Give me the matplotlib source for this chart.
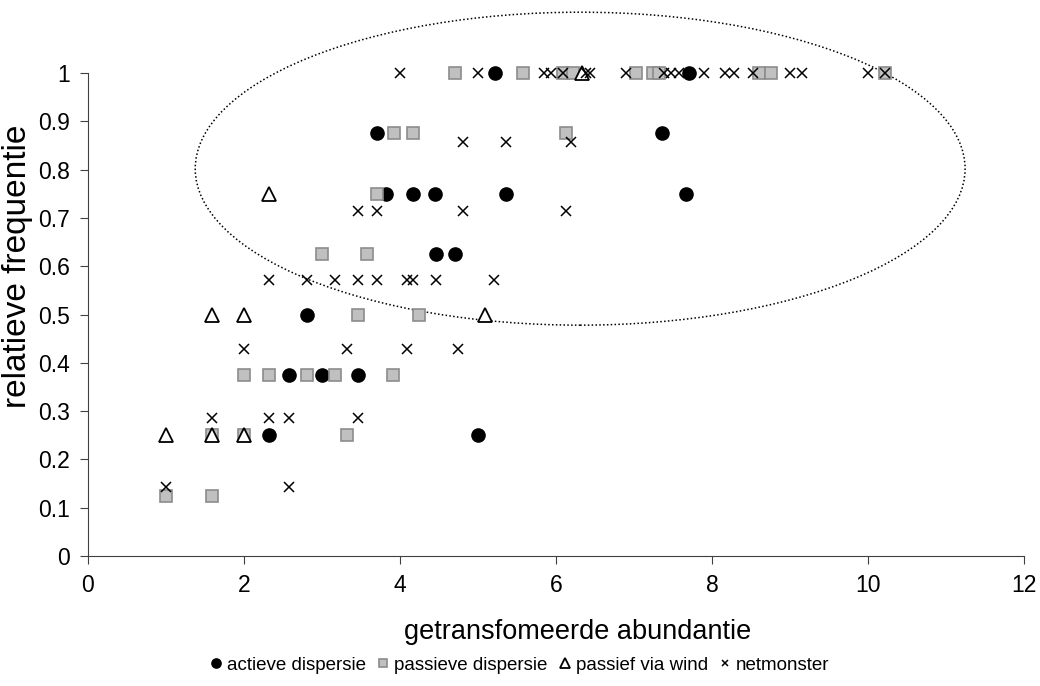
import numpy as np
import matplotlib.pyplot as plt
from matplotlib.patches import Ellipse

plt.rcParams['font.family'] = ['Liberation Sans', 'DejaVu Sans']

# actieve dispersie
act_x = [5.22, 7.71, 3.71, 7.36, 3.82, 4.17, 4.45, 5.36, 7.67, 4.46, 4.71,
         2.81, 2.58, 3.0, 3.46, 2.32, 5.0]
act_y = [1, 1, 0.875, 0.875, 0.75, 0.75, 0.75, 0.75, 0.75, 0.625, 0.625,
         0.5, 0.375, 0.375, 0.375, 0.25, 0.25]

# passieve dispersie
pas_x = [4.7, 5.58, 6.09, 6.22, 7.03, 7.25, 7.32, 8.6, 8.76, 10.22,
         3.92, 4.17, 6.13, 3.71, 3.0, 3.58, 3.46, 4.24,
         2.0, 2.32, 2.81, 3.17, 3.91, 1.59, 2.0, 3.32, 1.0, 1.59]
pas_y = [1, 1, 1, 1, 1, 1, 1, 1, 1, 1,
         0.875, 0.875, 0.875, 0.75, 0.625, 0.625, 0.5, 0.5,
         0.375, 0.375, 0.375, 0.375, 0.375, 0.25, 0.25, 0.25, 0.125, 0.125]

# passief via wind
wind_x = [6.33, 2.32, 1.59, 2.0, 5.09, 1.0, 1.59, 2.0]
wind_y = [1, 0.75, 0.5, 0.5, 0.5, 0.25, 0.25, 0.25]

# netmonster
net_x = [4.0, 5.0, 5.84, 5.94, 6.09, 6.38, 6.43, 6.9, 7.38, 7.48, 7.58, 7.9,
         8.17, 8.28, 8.52, 9.0, 9.15, 10.0, 10.22,
         4.81, 5.36, 6.19,
         3.46, 3.71, 4.81, 6.13,
         2.32, 2.81, 3.17, 3.46, 3.71, 4.09, 4.17, 4.46, 5.2,
         2.0, 3.32, 4.09, 4.75,
         1.59, 2.32, 2.58, 3.46,
         1.0, 2.58]
net_y = [1] * 19 + [6 / 7] * 3 + [5 / 7] * 4 + [4 / 7] * 9 + [3 / 7] * 4 + \
        [2 / 7] * 4 + [1 / 7] * 2

fig = plt.figure(figsize=(10.4, 6.86), dpi=100)
ax = fig.add_axes([0.0846, 0.1895, 0.9, 0.704])

ax.plot(act_x, act_y, 'o', ms=9.5, mfc='black', mec='black', ls='none',
        label='actieve dispersie', zorder=3, clip_on=False)
ax.plot(pas_x, pas_y, 's', ms=8.5, mfc='#c0c0c0', mec='#8c8c8c', mew=1.2,
        ls='none', label='passieve dispersie', zorder=3, clip_on=False)
ax.plot(wind_x, wind_y, '^', ms=10, mfc='white', mec='black', mew=1.3,
        ls='none', label='passief via wind', zorder=4, clip_on=False)
ax.plot(net_x, net_y, 'x', ms=6.5, mec='black', mew=1.1, ls='none',
        label='netmonster', zorder=5, clip_on=False)

# gestippelde ellips rond de hoge frequenties
ell = Ellipse((6.31, 0.802), 9.87, 0.648, fill=False, ls=(0, (1, 1.5)),
              lw=1.1, ec='black', clip_on=False)
ax.add_patch(ell)

ax.set_xlim(0, 12)
ax.set_ylim(0, 1)
ax.set_xticks(np.arange(0, 13, 2))
ax.set_yticks(np.round(np.arange(0, 1.01, 0.1), 1))
ax.set_yticklabels(['0', '0.1', '0.2', '0.3', '0.4', '0.5', '0.6', '0.7',
                    '0.8', '0.9', '1'])
ax.spines['top'].set_visible(False)
ax.spines['right'].set_visible(False)
for s in ['left', 'bottom']:
    ax.spines[s].set_color('#404040')
ax.tick_params(direction='out', length=6, color='#404040', labelsize=16.5,
               pad=7)

# as-titels (handmatig geplaatst zoals in het origineel)
fig.text(0.555, 0.079, 'getransfomeerde abundantie', fontsize=19.5,
         ha='center', va='center')
fig.text(0.017, 0.612, 'relatieve frequentie', fontsize=24, rotation=90,
         ha='center', va='center')

fig.legend(loc='center', bbox_to_anchor=(0.5, 0.03), ncol=4, frameon=False,
           fontsize=13.5, markerscale=0.7, handlelength=0.6,
           handletextpad=0.3, columnspacing=0.6)

fig.savefig('out.png', dpi=100)
